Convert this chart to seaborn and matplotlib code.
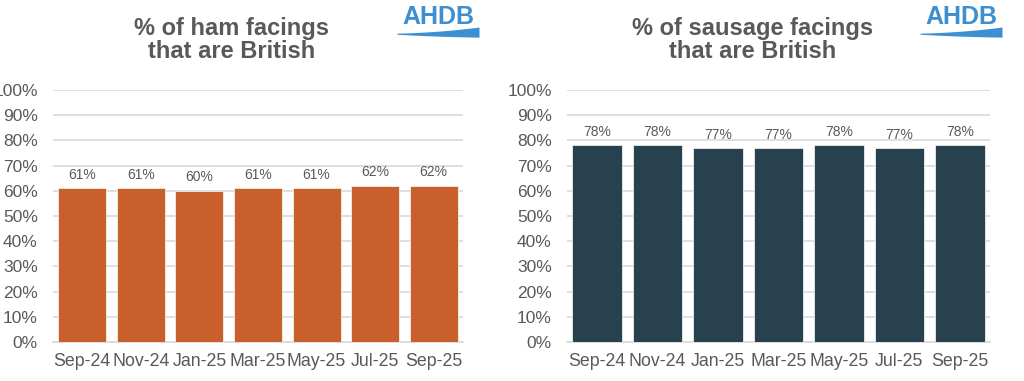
import numpy as np
import pandas as pd
import matplotlib
matplotlib.use("Agg")
import matplotlib.pyplot as plt
import seaborn as sns

months = ["Sep-24", "Nov-24", "Jan-25", "Mar-25", "May-25", "Jul-25", "Sep-25"]
ham = [61, 61, 60, 61, 61, 62, 62]
sausage = [78, 78, 77, 77, 78, 77, 78]

sns.set_style("white")
plt.rcParams["font.family"] = ["Liberation Sans", "DejaVu Sans"]

grey = "#595959"
fig = plt.figure(figsize=(10.24, 3.81), dpi=100)
ax1 = fig.add_axes([53/1024, 1-342/381, 410/1024, 252/381])
ax2 = fig.add_axes([567/1024, 1-342/381, 423/1024, 252/381])


def draw(ax, vals, color):
    df = pd.DataFrame({"month": months, "pct": vals})
    sns.barplot(data=df, x="month", y="pct", color=color, width=0.82,
                edgecolor="#eeeeee", linewidth=0.6, saturation=1, ax=ax, zorder=3)
    for i, v in enumerate(vals):
        ax.text(i, v + 2.5, f"{v}%", ha="center", va="bottom", fontsize=10, color=grey)
    ax.set_ylim(0, 100)
    ax.set_xlim(-0.5, len(months) - 0.5)
    ax.set_yticks(range(0, 101, 10))
    ax.set_yticklabels([f"{t}%" for t in range(0, 101, 10)])
    ax.yaxis.grid(True, color="#d9d9d9", linewidth=1.2, zorder=0)
    ax.set_xticks(np.arange(-0.5, len(months), 1), minor=True)
    ax.tick_params(axis="x", which="minor", length=5, color="#d9d9d9", width=1.2)
    ax.tick_params(axis="x", which="major", length=0, pad=8, labelsize=12.8, labelcolor=grey)
    ax.tick_params(axis="y", length=0, pad=11, labelsize=12.5, labelcolor=grey)
    ax.set_xlabel("")
    ax.set_ylabel("")
    for s in ["top", "right", "left"]:
        ax.spines[s].set_visible(False)
    ax.spines["bottom"].set_color("#d9d9d9")
    ax.spines["bottom"].set_linewidth(1.2)
    ax.set_axisbelow(True)


draw(ax1, ham, "#C9602C")
draw(ax2, sausage, "#27414E")

fig.text(232/1024, 1-40/381, "% of ham facings\nthat are British", ha="center", va="center",
         fontsize=17, fontweight="bold", color=grey, linespacing=1.05)
fig.text(753/1024, 1-40/381, "% of sausage facings\nthat are British", ha="center", va="center",
         fontsize=17, fontweight="bold", color=grey, linespacing=1.05)


def logo(x0):
    # AHDB logo: blue word with a swoosh underneath
    lax = fig.add_axes([x0/1024, 1-40/381, 82/1024, 36/381])
    lax.set_xlim(0, 1)
    lax.set_ylim(0, 1)
    lax.axis("off")
    lax.text(0.5, 0.63, "AHDB", ha="center", va="center", fontsize=18,
             fontweight="bold", color="#3C8FD1")
    xs = np.linspace(0, 1, 60)
    top = 0.19 + 0.05 * xs + 0.12 * xs ** 2
    bot = 0.16 - 0.13 * xs + 0.05 * xs ** 2
    lax.fill_between(xs, bot, top, color="#3C8FD1", lw=0)


logo(397)
logo(920)

fig.savefig("out.png", dpi=100)
